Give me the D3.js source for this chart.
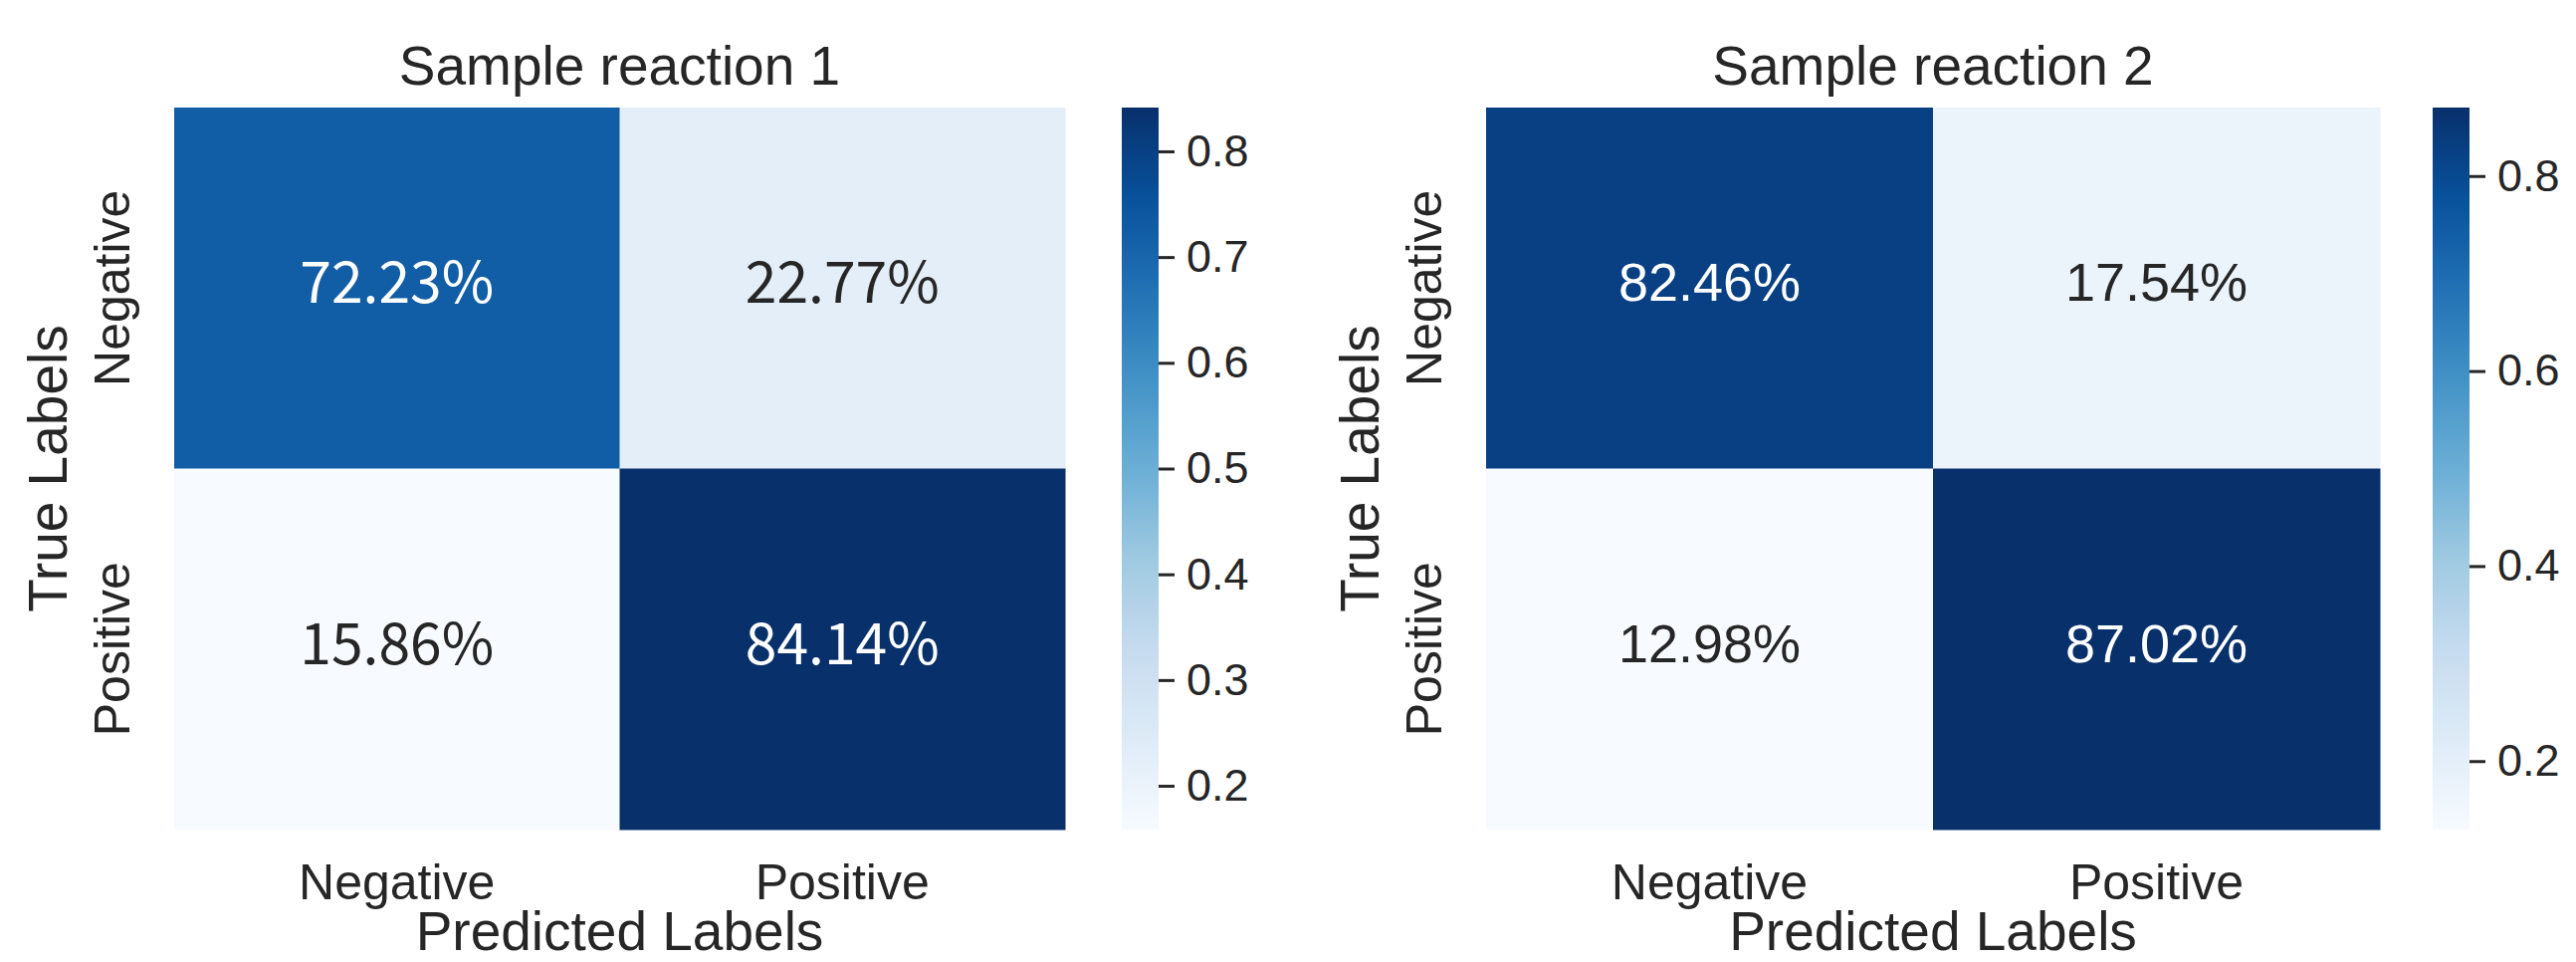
<!DOCTYPE html>
<html>
<head>
<meta charset="utf-8">
<script src="https://cdn.jsdelivr.net/npm/d3@7"></script>
<style>
  html, body { margin: 0; padding: 0; background: #fff; }
  svg { display: block; }
</style>
</head>
<body>
<svg id="chart" width="2588" height="966"></svg>
<script>
// chart data
const classes = ["Negative", "Positive"];
const titles = ["Sample reaction 1", "Sample reaction 2"];
const reaction1 = [[0.7223, 0.2277], [0.1586, 0.8414]];
const reaction2 = [[0.8246, 0.1754], [0.1298, 0.8702]];
const cbTicks1 = [0.2, 0.3, 0.4, 0.5, 0.6, 0.7, 0.8];
const cbTicks2 = [0.2, 0.4, 0.6, 0.8];

const textColor = "#262626";
const svg = d3.select("#chart");

// matplotlib "Blues" = linear piecewise through the 9 brewer colours
const blues = d3.piecewise(d3.interpolateRgb, d3.schemeBlues[9]);

const panels = [
  { title: titles[0], values: reaction1, ticks: cbTicks1, left: 175, right: 1070, cbx: 1127,
    annotFont: "'Noto Sans CJK JP', 'Noto Sans', sans-serif", annotSize: 57, annotShift: 18 },
  { title: titles[1], values: reaction2, ticks: cbTicks2, left: 1493, right: 2391, cbx: 2444,
    annotFont: "'Liberation Sans', Arial, sans-serif", annotSize: 54, annotShift: 16 }
];

const plotTop = 108, plotBottom = 833, cbWidth = 37;
const font = "'Liberation Sans', Arial, sans-serif";

panels.forEach((p, pi) => {
  const g = svg.append("g");
  const flat = p.values.flat();
  const vmin = d3.min(flat), vmax = d3.max(flat);
  const color = d3.scaleSequential(blues).domain([vmin, vmax]);

  const x = d3.scaleBand().domain(classes).range([p.left, p.right]);
  const y = d3.scaleBand().domain(classes).range([plotTop, plotBottom]);

  const cells = [];
  p.values.forEach((row, i) => row.forEach((v, j) => cells.push({ r: classes[i], c: classes[j], v })));

  g.selectAll("rect.cell")
    .data(cells)
    .enter()
    .append("rect")
    .attr("class", "cell")
    .attr("x", d => x(d.c))
    .attr("y", d => y(d.r))
    .attr("width", x.bandwidth() + 0.5)
    .attr("height", y.bandwidth() + 0.5)
    .attr("fill", d => color(d.v));

  // cell annotations
  g.selectAll("text.annot")
    .data(cells)
    .enter()
    .append("text")
    .attr("class", "annot")
    .attr("x", d => x(d.c) + x.bandwidth() / 2)
    .attr("y", d => y(d.r) + y.bandwidth() / 2 + p.annotShift - 3)
    .attr("text-anchor", "middle")
    .style("font-family", p.annotFont)
    .style("font-size", p.annotSize + "px")
    .attr("fill", d => ((d.v - vmin) / (vmax - vmin) > 0.5 ? "#ffffff" : textColor))
    .text(d => (d.v * 100).toFixed(2) + "%");

  // x tick labels
  g.selectAll("text.xtick")
    .data(classes)
    .enter()
    .append("text")
    .attr("x", d => x(d) + x.bandwidth() / 2)
    .attr("y", 903)
    .attr("text-anchor", "middle")
    .style("font-family", font)
    .style("font-size", "50px")
    .attr("fill", textColor)
    .text(d => d);

  // y tick labels (rotated)
  g.selectAll("text.ytick")
    .data(classes)
    .enter()
    .append("text")
    .attr("transform", d => `translate(${p.left - 45},${y(d) + y.bandwidth() / 2}) rotate(-90)`)
    .attr("text-anchor", "middle")
    .style("font-family", font)
    .style("font-size", "50px")
    .attr("fill", textColor)
    .text(d => d);

  // title
  g.append("text")
    .attr("x", (p.left + p.right) / 2)
    .attr("y", 85)
    .attr("text-anchor", "middle")
    .style("font-family", font)
    .style("font-size", "55px")
    .attr("fill", textColor)
    .text(p.title);

  // axis labels
  g.append("text")
    .attr("x", (p.left + p.right) / 2)
    .attr("y", 954)
    .attr("text-anchor", "middle")
    .style("font-family", font)
    .style("font-size", "55px")
    .attr("fill", textColor)
    .text("Predicted Labels");

  g.append("text")
    .attr("transform", `translate(${p.left - 108},${(plotTop + plotBottom) / 2}) rotate(-90)`)
    .attr("text-anchor", "middle")
    .style("font-family", font)
    .style("font-size", "55px")
    .attr("fill", textColor)
    .text("True Labels");

  // colour bar
  const cbScale = d3.scaleLinear().domain([vmin, vmax]).range([plotBottom, plotTop]);
  const gradId = "grad" + pi;
  const grad = svg.append("defs").append("linearGradient")
    .attr("id", gradId)
    .attr("x1", 0).attr("y1", 1).attr("x2", 0).attr("y2", 0);
  grad.selectAll("stop")
    .data(d3.range(0, 1.0001, 0.02))
    .enter()
    .append("stop")
    .attr("offset", t => t)
    .attr("stop-color", t => blues(t));

  g.append("rect")
    .attr("x", p.cbx)
    .attr("y", plotTop)
    .attr("width", cbWidth)
    .attr("height", plotBottom - plotTop)
    .attr("fill", `url(#${gradId})`);

  const axis = d3.axisRight(cbScale)
    .tickValues(p.ticks)
    .tickFormat(d3.format(".1f"))
    .tickSize(16)
    .tickPadding(12);

  const ag = g.append("g")
    .attr("transform", `translate(${p.cbx + cbWidth},0)`)
    .call(axis);
  ag.select(".domain").remove();
  ag.selectAll(".tick line").attr("stroke", textColor).attr("stroke-width", 3);
  ag.selectAll(".tick text")
    .style("font-family", font)
    .style("font-size", "45px")
    .attr("fill", textColor);
});
</script>
</body>
</html>
